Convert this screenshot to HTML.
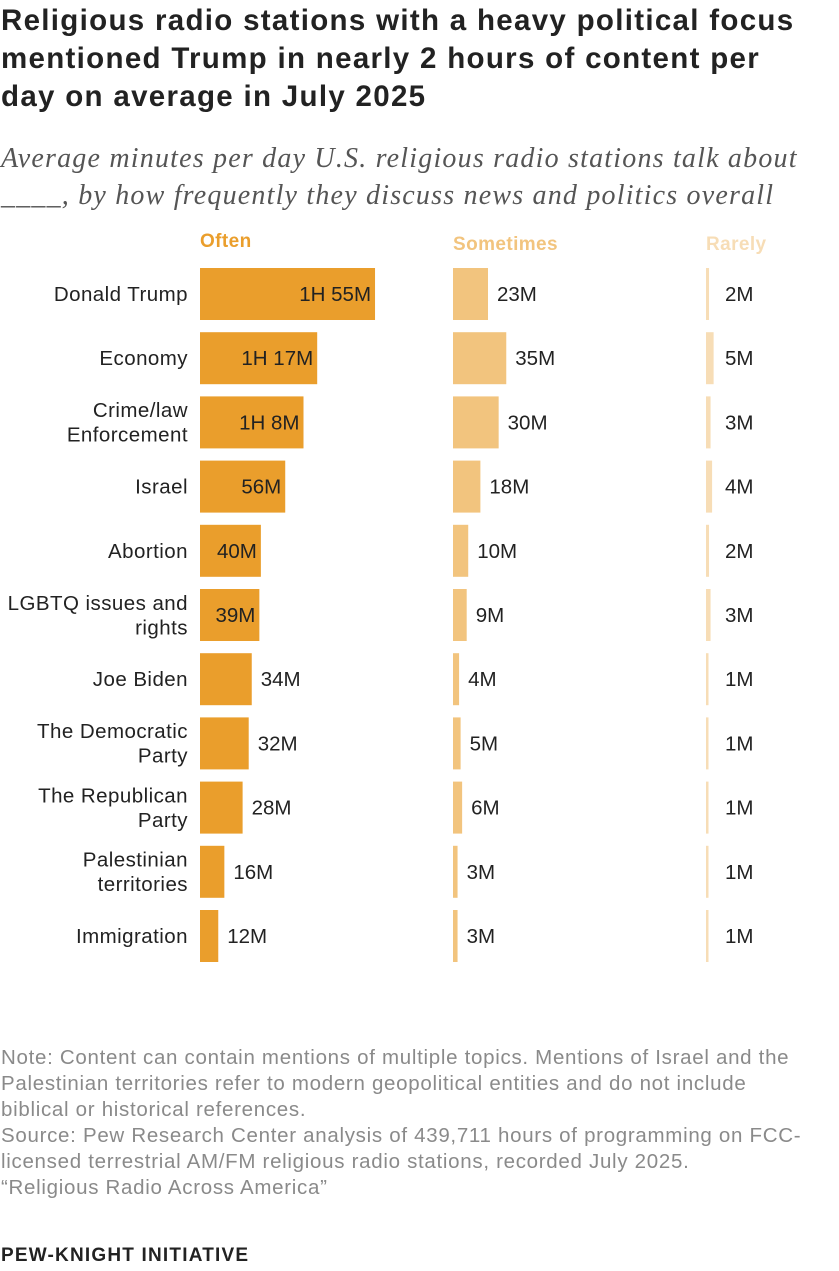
<!DOCTYPE html>
<html><head><meta charset="utf-8">
<style>
body{margin:0;background:#fff;width:839px;height:1271px;overflow:hidden;font-family:"Liberation Sans",sans-serif;color:#222}
#title{position:absolute;left:1px;top:2px;width:812px;font-weight:bold;font-size:29.5px;letter-spacing:1.3px;line-height:38px;color:#222}
#sub{position:absolute;left:1px;top:140px;width:830px;font-family:"Liberation Serif",serif;font-style:italic;font-size:28px;letter-spacing:1.2px;line-height:37px;color:#555}
#notes{position:absolute;left:1px;top:1045px;width:838px;white-space:nowrap;font-size:20.5px;letter-spacing:0.7px;line-height:26px;color:#8a8a8a}
#brand{position:absolute;left:1px;top:1245px;font-weight:bold;font-size:19px;letter-spacing:1.2px;color:#222}
svg{position:absolute;left:0;top:0}
</style></head><body>
<div id="title">Religious radio stations with a heavy political focus mentioned Trump in nearly 2 hours of content per day on average in July 2025</div>
<div id="sub">Average minutes per day U.S. religious radio stations talk about ____, by how frequently they discuss news and politics overall</div>
<svg id="chart" width="839" height="1040"></svg>
<div id="notes">Note: Content can contain mentions of multiple topics. Mentions of Israel and the<br>Palestinian territories refer to modern geopolitical entities and do not include<br>biblical or historical references.<br>Source: Pew Research Center analysis of 439,711 hours of programming on FCC-<br>licensed terrestrial AM/FM religious radio stations, recorded July 2025.<br>“Religious Radio Across America”</div>
<div id="brand">PEW-KNIGHT INITIATIVE</div>
<script>
const categories=[["Donald Trump"],["Economy"],["Crime/law","Enforcement"],["Israel"],["Abortion"],["LGBTQ issues and","rights"],["Joe Biden"],["The Democratic","Party"],["The Republican","Party"],["Palestinian","territories"],["Immigration"]];
const often=[115,77,68,56,40,39,34,32,28,16,12];
const sometimes=[23,35,30,18,10,9,4,5,6,3,3];
const rarely=[2,5,3,4,2,3,1,1,1,1,1];
const seriesNames=["Often","Sometimes","Rarely"];
const NS="http://www.w3.org/2000/svg";
const svg=document.getElementById('chart');
const pxPerMin=1.522;
const colX=[200,453,706];
const colors=["#EA9E2C","#F2C47E","#F7DDB6"];
const headColors=["#EA9E2C","#F2C47E","#F7DDB6"];
function x(v){return v*pxPerMin;}
function yC(i){return 294+i*64.2;}
function fmt(v){const h=Math.floor(v/60),m=v%60;return h?h+"H "+m+"M":m+"M";}
function mk(tag,attrs){const e=document.createElementNS(NS,tag);for(const k in attrs)e.setAttribute(k,attrs[k]);svg.appendChild(e);return e;}
seriesNames.forEach((n,c)=>{
  const t=mk('text',{x:colX[c],y:c==0?247:250,'font-size':19,'font-weight':'bold',fill:headColors[c],'letter-spacing':0.4});
  t.textContent=n;
  
  
});
const all=[often,sometimes,rarely];
categories.forEach((cat,i)=>{
  const cy=yC(i);
  const lines=cat;
  lines.forEach((l,j)=>{
    const t=mk('text',{x:188,y:cy+7+(j-(lines.length-1)/2)*24.5,'text-anchor':'end','font-size':20.5,'letter-spacing':0.45,fill:'#222'});
    t.textContent=l;
    
    
  });
  all.forEach((arr,c)=>{
    const v=arr[i];const w=Math.max(x(v),2.5);
    const r=mk('rect',{x:colX[c],y:cy-26,width:w,height:52,fill:colors[c]});
    
    
    const s=fmt(v);
    let tx,anchor='start';
    if(c==0){
      if(w>58){tx=colX[c]+w-4;anchor='end';}else tx=colX[c]+w+9;
    }else if(c==1){tx=colX[c]+w+9;if(tx<466)tx=466;}
    else tx=725;
    const t=mk('text',{x:tx,y:cy+7,'text-anchor':anchor,'font-size':20.5,fill:'#222'});
    t.textContent=s;
    
    
  });
});
</script>
</body></html>
